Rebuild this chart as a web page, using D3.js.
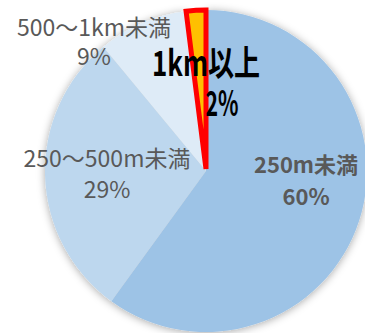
<!DOCTYPE html>
<html><head><meta charset="utf-8">
<script src="https://cdn.jsdelivr.net/npm/d3@7/dist/d3.min.js"></script>
<style>html,body{margin:0;padding:0;background:#fff;overflow:hidden}</style>
</head><body>
<svg id="c" width="365" height="333"></svg>
<script>
const categories = ["250m未満", "250〜500m未満", "500〜1km未満", "1km以上"];
const values = [60, 29, 9, 2];
const percentLabels = ["60%", "29%", "9%", "2%"];

const colors = ["#9DC3E6", "#BDD7EE", "#DEEBF7", "#FFC000"];
const strokes = ["none", "none", "none", "#FF0000"];
// manual label placement (Excel-style), center x and baselines
const labelLayout = [
  {x: 306, y1: 173, y2: 205, size: 22, weight: 700, fill: "#595959"},
  {x: 107, y1: 167, y2: 198, size: 23, weight: 400, fill: "#595959"},
  {x: 94,  y1: 36,  y2: 65,  size: 23, weight: 400, fill: "#595959"},
  {x: 206, y1: 76,  y2: 116, x2: 222, size: 35, weight: 700, fill: "#000000", len1: 108, len2: 33}
];

const svg = d3.select("#c");
const cx = 206, cy = 171, r = 161;

const defs = svg.append("defs");
const f = defs.append("filter").attr("id", "sh").attr("x", "-20%").attr("y", "-20%").attr("width", "140%").attr("height", "140%");
f.append("feDropShadow").attr("dx", 0).attr("dy", 1).attr("stdDeviation", 4)
  .attr("flood-color", "#000").attr("flood-opacity", 0.35);

const pie = d3.pie().sort(null).value(d => d)(values);
const arc = d3.arc().innerRadius(0).outerRadius(r);

const g = svg.append("g").attr("transform", `translate(${cx},${cy})`);
g.append("g").attr("filter", "url(#sh)")
  .selectAll("path").data(pie.slice(0, 3)).join("path")
  .attr("d", arc).attr("fill", (d, i) => colors[i]);

g.append("path").datum(pie[3])
  .attr("d", d3.arc().innerRadius(0).outerRadius(r - 2))
  .attr("transform", "translate(0,-2)")
  .attr("fill", colors[3]).attr("stroke", strokes[3]).attr("stroke-width", 5)
  .attr("stroke-linejoin", "miter").attr("stroke-miterlimit", 4);

const lab = svg.append("g").attr("font-family", "'Noto Sans CJK JP', 'Noto Sans', sans-serif");
categories.forEach((c, i) => {
  const L = labelLayout[i];
  const t1 = lab.append("text").attr("x", L.x).attr("y", L.y1).attr("text-anchor", "middle")
    .attr("font-size", L.size).attr("font-weight", L.weight).attr("fill", L.fill).text(c);
  const t2 = lab.append("text").attr("x", L.x2 || L.x).attr("y", L.y2).attr("text-anchor", "middle")
    .attr("font-size", L.size).attr("font-weight", L.weight).attr("fill", L.fill).text(percentLabels[i]);
  if (L.len1) { t1.attr("textLength", L.len1).attr("lengthAdjust", "spacingAndGlyphs"); }
  if (L.len2) { t2.attr("textLength", L.len2).attr("lengthAdjust", "spacingAndGlyphs"); }
});
</script>
</body></html>
